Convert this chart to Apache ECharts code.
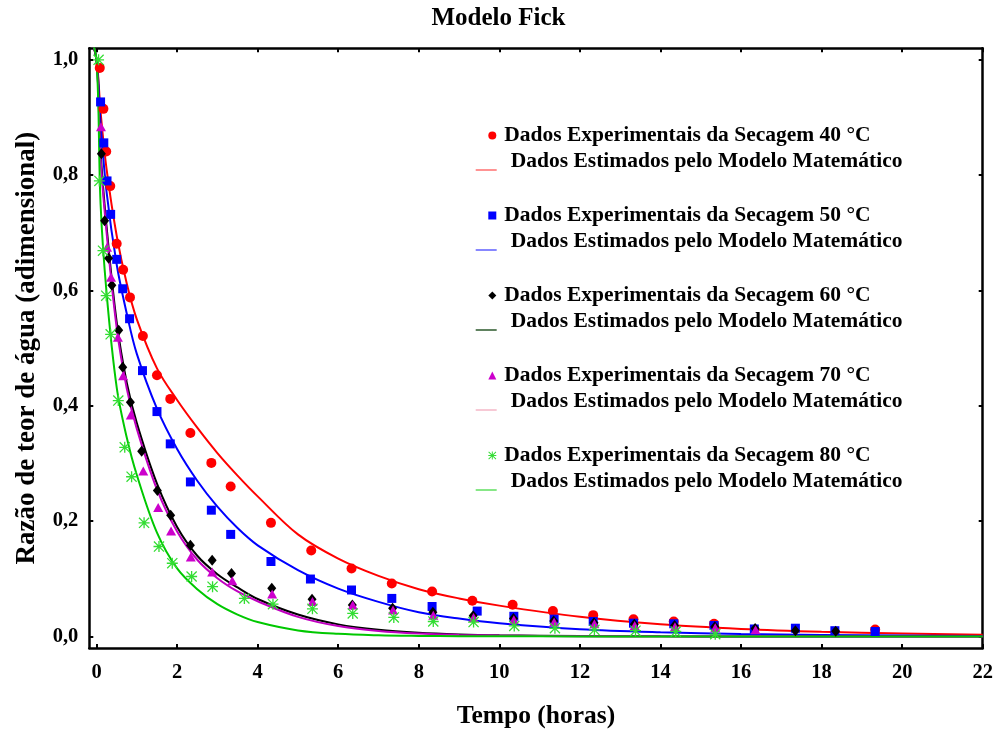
<!DOCTYPE html>
<html>
<head>
<meta charset="utf-8">
<script src="https://cdn.jsdelivr.net/npm/echarts@6/dist/echarts.min.js"></script>
<style>html,body{margin:0;padding:0;background:#fff}#chart{width:997px;height:734px}</style>
</head>
<body>
<div id="chart"></div>
<script>
// ---- tick values ----
const xTicks = [0, 2, 4, 6, 8, 10, 12, 14, 16, 18, 20, 22];
const yTicks = [0, 0.2, 0.4, 0.6, 0.8, 1.0];

// ---- experimental data (time in hours, moisture ratio) ----
const t40 = [0.08,0.17,0.24,0.34,0.5,0.66,0.83,1.15,1.5,1.83,2.33,2.85,3.33,4.33,5.33,6.33,7.33,8.33,9.33,10.33,11.33,12.33,13.33,14.33,15.33,19.33];
const mr40 = [0.986,0.915,0.841,0.781,0.681,0.636,0.588,0.521,0.453,0.412,0.353,0.301,0.260,0.197,0.149,0.118,0.092,0.078,0.062,0.055,0.044,0.037,0.030,0.026,0.022,0.012];

const t50 = [0.1,0.18,0.26,0.35,0.5,0.65,0.82,1.14,1.5,1.83,2.33,2.85,3.33,4.33,5.31,6.33,7.33,8.33,9.45,10.36,11.36,12.33,13.33,14.33,15.33,16.33,17.35,18.33,19.33];
const mr50 = [0.927,0.856,0.790,0.732,0.654,0.603,0.551,0.461,0.390,0.334,0.268,0.219,0.177,0.130,0.0996,0.0806,0.066,0.052,0.044,0.035,0.030,0.026,0.023,0.022,0.019,0.013,0.0143,0.010,0.0086];

const t60 = [0.12,0.2,0.3,0.38,0.55,0.65,0.84,1.12,1.51,1.84,2.33,2.87,3.35,4.35,5.35,6.35,7.35,8.35,9.35,10.35,11.35,12.35,13.35,14.35,15.35,16.35,17.35,18.35];
const mr60 = [0.837,0.721,0.656,0.609,0.531,0.467,0.406,0.321,0.253,0.210,0.158,0.132,0.109,0.0835,0.0645,0.0546,0.049,0.042,0.036,0.031,0.027,0.024,0.021,0.019,0.017,0.014,0.010,0.009];

const t70 = [0.11,0.26,0.36,0.53,0.66,0.85,1.16,1.53,1.85,2.34,2.87,3.37,4.36,5.36,6.36,7.36,8.36,9.36,10.36,11.36,12.36,13.36,14.36,15.36,16.36];
const mr70 = [0.884,0.675,0.623,0.519,0.452,0.384,0.287,0.2235,0.183,0.138,0.112,0.0968,0.0737,0.0605,0.0546,0.046,0.037,0.033,0.029,0.025,0.022,0.019,0.017,0.015,0.0115];

const t80 = [0.05,0.07,0.16,0.24,0.35,0.54,0.70,0.87,1.18,1.55,1.88,2.36,2.88,3.67,4.38,5.36,6.36,7.38,8.36,9.36,10.37,11.38,12.36,13.38,14.38,15.36];
const mr80 = [1.0,0.79,0.669,0.591,0.524,0.409,0.328,0.277,0.197,0.156,0.127,0.104,0.0864,0.066,0.056,0.048,0.040,0.033,0.026,0.025,0.0183,0.0143,0.0115,0.010,0.0086,0.004];

// ---- model curves ----
const tFit = [-0.15,0,0.1,0.25,0.5,0.75,1,1.5,2,2.5,3,3.5,4,5,6,7,8,9,10,12,14,16,18,20,22];
const fit40 = [1.04,1.0,0.91,0.81,0.695,0.612,0.55,0.465,0.41,0.362,0.318,0.279,0.243,0.177,0.135,0.105,0.082,0.066,0.0535,0.034,0.021,0.013,0.008,0.005,0.003];
const fit50 = [1.04,1.0,0.89,0.77,0.645,0.56,0.49,0.395,0.325,0.27,0.225,0.188,0.158,0.115,0.083,0.060,0.042,0.031,0.023,0.0125,0.0072,0.0042,0.0025,0.0015,0.001];
const fit60 = [1.04,1.0,0.84,0.71,0.545,0.44,0.37,0.265,0.19,0.14,0.108,0.085,0.065,0.038,0.021,0.0115,0.0063,0.0035,0.002,0.0006,0.0002,0.0001,0,0,0];
const fit70 = [1.04,1.0,0.83,0.70,0.535,0.43,0.36,0.255,0.182,0.133,0.101,0.078,0.061,0.034,0.018,0.0095,0.005,0.0027,0.0015,0.0005,0.0002,0.0001,0,0,0];
const fit80 = [1.04,1.0,0.75,0.595,0.432,0.345,0.28,0.18,0.118,0.082,0.056,0.038,0.025,0.0105,0.0045,0.002,0.001,0.0005,0.0003,0.0001,0,0,0,0,0];

const temps = ['40', '50', '60', '70', '80'];

const FONT = '"Liberation Serif", "Times New Roman", serif';
const STAR = 'path://M4.4,0H5.6V10H4.4Z M0,4.4H10V5.6H0Z M0.8,0L10,9.2L9.2,10L0,0.8Z M9.2,0L10,0.8L0.8,10L0,9.2Z';
const LINE_ICON = 'path://M0,0H0.02V0.02H0Z M0,16.5H21V18H0Z';

const expT = [t40, t50, t60, t70, t80];
const expV = [mr40, mr50, mr60, mr70, mr80];
const fits = [fit40, fit50, fit60, fit70, fit80];
const markerColors = ['#ff0000', '#0000ff', '#000000', '#cc00cc', '#33dd33'];
const lineColors = ['#ff0000', '#0000ff', '#000000', '#c000c0', '#00c800'];
const legendLineColors = ['#ff7070', '#6060ff', '#2d5a2d', '#f5b8c8', '#60e060'];
const symbols = ['circle', 'rect', 'diamond', 'triangle', STAR];
const symbolSizes = [10, 9, [9, 11], [10, 9], 11];
const legendSizes = [8, 8, 8, 8, 8];

const expName = i => 'Dados Experimentais da Secagem ' + temps[i] + ' °C';
const fitName = i => 'Dados Estimados pelo Modelo Matemático (' + temps[i] + ' °C)';

const series = [];
temps.forEach((_, i) => {
  series.push({
    type: 'line', name: fitName(i), color: lineColors[i],
    data: tFit.map((t, j) => [t, fits[i][j]]),
    symbol: 'none', showSymbol: false, smooth: 0.35,
    lineStyle: { width: 2, color: lineColors[i] }, z: 2, silent: true
  });
});
temps.forEach((_, i) => {
  series.push({
    type: 'scatter', name: expName(i), color: markerColors[i],
    data: expT[i].map((t, j) => [t, expV[i][j]]),
    symbol: symbols[i], symbolSize: symbolSizes[i],
    itemStyle: { color: markerColors[i], opacity: 1 }, z: 3 + i, silent: true
  });
});

const legendText = { fontFamily: FONT, fontWeight: 'bold', fontSize: 21.5, lineHeight: 24, color: '#000' };
const legends = [];
temps.forEach((_, i) => {
  legends.push({
    orient: 'vertical', left: 488.3, top: 135.5 + 80 * i - 12, padding: 0,
    itemWidth: legendSizes[i], itemHeight: legendSizes[i], selectedMode: false,
    itemStyle: { borderWidth: 0 },
    data: [{ name: expName(i), icon: symbols[i], itemStyle: { color: markerColors[i], borderWidth: 0, opacity: 1 } }],
    textStyle: Object.assign({ padding: [0, 0, 0, 3] }, legendText)
  });
  legends.push({
    orient: 'vertical', left: 475.7, top: 161.7 + 80 * i - 12, padding: 0,
    itemWidth: 21, itemHeight: 18, selectedMode: false,
    itemStyle: { borderWidth: 0 },
    data: [{ name: fitName(i), icon: LINE_ICON, itemStyle: { color: legendLineColors[i], borderWidth: 0 } }],
    formatter: n => n.replace(/ \(\d+ °C\)$/, ''),
    textStyle: Object.assign({ padding: [0, 0, 0, 9] }, legendText)
  });
});

const axisLine = { show: true, onZero: false, lineStyle: { color: '#000', width: 2.5 } };
const tickStyle = { color: '#000', width: 2 };
const labelFont = { fontFamily: FONT, fontWeight: 'bold', fontSize: 20.5, color: '#000' };

const option = {
  animation: false,
  backgroundColor: '#fff',
  title: {
    text: 'Modelo Fick', left: 'center', top: 6, padding: 0,
    textStyle: { fontFamily: FONT, fontWeight: 'bold', fontSize: 25, color: '#000' }
  },
  grid: { left: 89.3, right: 14.3, top: 48.3, bottom: 84.7, containLabel: false },
  legend: legends,
  xAxis: [
    {
      type: 'value', position: 'bottom', min: -0.18, max: 22,
      axisLine: axisLine,
      axisTick: { show: true, inside: true, length: 4, lineStyle: tickStyle, customValues: xTicks },
      axisLabel: Object.assign({ margin: 14, customValues: xTicks, formatter: v => String(v) }, labelFont),
      splitLine: { show: false },
      name: 'Tempo (horas)', nameLocation: 'middle', nameGap: 55,
      nameTextStyle: { fontFamily: FONT, fontWeight: 'bold', fontSize: 25.5, color: '#000' }
    },
    {
      type: 'value', position: 'top', min: -0.18, max: 22,
      axisLine: axisLine,
      axisTick: { show: true, inside: true, length: 4, lineStyle: tickStyle, customValues: xTicks },
      axisLabel: { show: false },
      splitLine: { show: false }
    }
  ],
  yAxis: [
    {
      type: 'value', position: 'left', min: -0.02, max: 1.02,
      axisLine: axisLine,
      axisTick: { show: true, inside: true, length: 4, lineStyle: tickStyle, customValues: yTicks },
      axisLabel: Object.assign({ margin: 11, customValues: yTicks, formatter: v => v.toFixed(1).replace('.', ',') }, labelFont),
      splitLine: { show: false },
      name: 'Razão de teor de água (adimensional)', nameLocation: 'middle', nameGap: 49,
      nameTextStyle: { fontFamily: FONT, fontWeight: 'bold', fontSize: 27, color: '#000' }
    },
    {
      type: 'value', position: 'right', min: -0.02, max: 1.02,
      axisLine: axisLine,
      axisTick: { show: true, inside: true, length: 4, lineStyle: tickStyle, customValues: yTicks },
      axisLabel: { show: false },
      splitLine: { show: false }
    }
  ],
  series: series
};

const chart = echarts.init(document.getElementById('chart'), null, { renderer: 'canvas' });
chart.setOption(option);
</script>
</body>
</html>
